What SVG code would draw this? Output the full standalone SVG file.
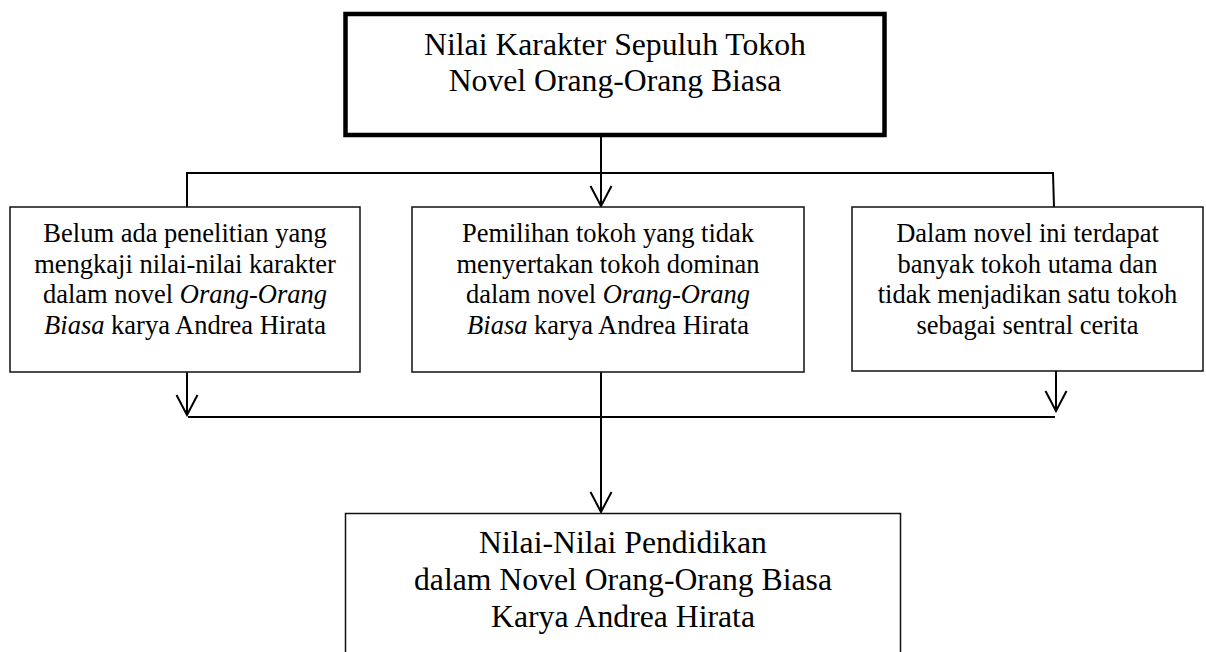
<svg xmlns="http://www.w3.org/2000/svg" width="1206" height="652" viewBox="0 0 1206 652">
<style>
.box{fill:#fff;stroke:#111;stroke-width:1.5}
.main{fill:#fff;stroke:#000;stroke-width:4.5}
.t{font-family:"Liberation Serif","Times New Roman",serif;fill:#000;text-anchor:middle}
.s{font-size:26.5px}
.b{font-size:31.7px}
.c{fill:none;stroke:#000;stroke-width:2}
</style>
<defs>
<marker id="ah" markerUnits="userSpaceOnUse" markerWidth="24" markerHeight="26" viewBox="-22 -12 24 24" refX="0" refY="0" orient="auto">
<path d="M-20,-10.5 L0,0 L-20,10.5" fill="none" stroke="#000" stroke-width="2"/>
</marker>
</defs>
<rect width="1206" height="652" fill="#fff"/>
<g id="connectors">
<line class="c" x1="601" y1="137" x2="601" y2="206" marker-end="url(#ah)"/>
<polyline class="c" points="187,207 187,173 1053,173 1054,207"/>
<line class="c" x1="187" y1="372" x2="187" y2="415" marker-end="url(#ah)"/>
<line class="c" x1="1056" y1="371" x2="1056" y2="411" marker-end="url(#ah)"/>
<line class="c" x1="188" y1="417" x2="1055" y2="417"/>
<line class="c" x1="601" y1="372" x2="601" y2="512" marker-end="url(#ah)"/>
</g>
<g id="top">
<rect class="main" x="345.5" y="14" width="539" height="121"/>
<text class="t b" x="615" y="55">Nilai Karakter Sepuluh Tokoh</text>
<text class="t b" x="615" y="91">Novel Orang-Orang Biasa</text>
</g>
<g id="left">
<rect class="box" x="10" y="207" width="350" height="165"/>
<text class="t s" x="185" y="242">Belum ada penelitian yang</text>
<text class="t s" x="185" y="272.5">mengkaji nilai-nilai karakter</text>
<text class="t s" x="185" y="303">dalam novel <tspan font-style="italic">Orang-Orang</tspan></text>
<text class="t s" x="185" y="333.5"><tspan font-style="italic">Biasa</tspan> karya Andrea Hirata</text>
</g>
<g id="middle">
<rect class="box" x="412" y="207" width="392" height="165"/>
<text class="t s" x="608" y="242">Pemilihan tokoh yang tidak</text>
<text class="t s" x="608" y="272.5">menyertakan tokoh dominan</text>
<text class="t s" x="608" y="303">dalam novel <tspan font-style="italic">Orang-Orang</tspan></text>
<text class="t s" x="608" y="333.5"><tspan font-style="italic">Biasa</tspan> karya Andrea Hirata</text>
</g>
<g id="right">
<rect class="box" x="852" y="207" width="351" height="164"/>
<text class="t s" x="1027.5" y="242">Dalam novel ini terdapat</text>
<text class="t s" x="1027.5" y="272.5">banyak tokoh utama dan</text>
<text class="t s" x="1027.5" y="303">tidak menjadikan satu tokoh</text>
<text class="t s" x="1027.5" y="333.5">sebagai sentral cerita</text>
</g>
<g id="bottom">
<rect class="box" x="345.5" y="513.5" width="555" height="150"/>
<text class="t b" x="623" y="553">Nilai-Nilai Pendidikan</text>
<text class="t b" x="623" y="590">dalam Novel Orang-Orang Biasa</text>
<text class="t b" x="623" y="627">Karya Andrea Hirata</text>
</g>
</svg>
